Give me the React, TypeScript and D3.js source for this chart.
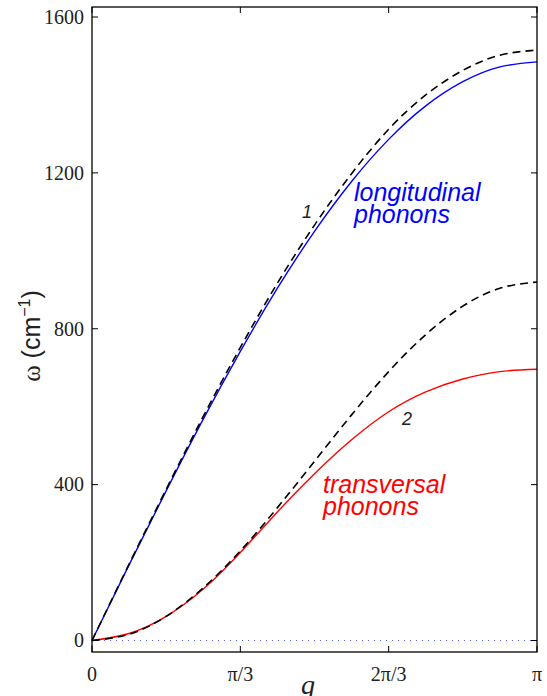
import React from "react";
import * as d3 from "d3";

// q in units of pi/12, 0..pi
const qSteps = [0, 1, 2, 3, 4, 5, 6, 7, 8, 9, 10, 11, 12];

// omega (cm^-1) at each q step
const longitudinal = [0, 194, 384, 568, 742, 904, 1050, 1178, 1286, 1372, 1434, 1472, 1485];
const longitudinalDashed = [0, 196, 388, 575, 752, 917, 1066, 1198, 1312, 1400, 1463, 1502, 1515];
const transversal = [0, 18, 62, 132, 226, 330, 428, 515, 587, 638, 671, 690, 696];
const transversalDashed = [0, 16, 62, 135, 230, 341, 460, 579, 690, 785, 858, 904, 920];

const yTicks = [0, 400, 800, 1200, 1600];
const xTicks = [0, Math.PI / 3, (2 * Math.PI) / 3, Math.PI];
const xTickLabels = ["0", "π/3", "2π/3", "π"];

const W = 547;
const H = 696;
const left = 92;
const right = 537;
const top = 7;
const bottom = 652;

const serif = "'Liberation Serif', 'Times New Roman', serif";
const sans = "'Liberation Sans', Arial, Helvetica, sans-serif";

export default function App() {
  const x = d3.scaleLinear().domain([0, Math.PI]).range([left, right]);
  const y = d3.scaleLinear().domain([-29.5, 1625.7]).range([bottom, top]);

  const pts = (vals: number[]) =>
    qSteps.map((s, i) => [(s * Math.PI) / 12, vals[i]] as [number, number]);

  const line = d3
    .line<[number, number]>()
    .x((d) => x(d[0]))
    .y((d) => y(d[1]))
    .curve(d3.curveNatural);

  const tick = 6;

  return (
    <svg
      width={W}
      height={H}
      style={{ position: "absolute", left: 0, top: 0, background: "#fff" }}
    >
      {/* zero line */}
      <line
        x1={left}
        x2={right}
        y1={y(0)}
        y2={y(0)}
        stroke="#5a5aff"
        strokeWidth={1}
        strokeDasharray="1,5"
      />

      {/* curves */}
      <path d={line(pts(transversal)) || ""} fill="none" stroke="#ff0000" strokeWidth={1.4} />
      <path d={line(pts(longitudinal)) || ""} fill="none" stroke="#0000ff" strokeWidth={1.4} />
      <path
        d={line(pts(longitudinalDashed)) || ""}
        fill="none"
        stroke="#000"
        strokeWidth={1.6}
        strokeDasharray="8,5"
      />
      <path
        d={line(pts(transversalDashed)) || ""}
        fill="none"
        stroke="#000"
        strokeWidth={1.6}
        strokeDasharray="8,5"
      />

      {/* box */}
      <rect
        x={left}
        y={top}
        width={right - left}
        height={bottom - top}
        fill="none"
        stroke="#000"
        strokeWidth={1.3}
      />

      {/* y ticks */}
      {yTicks.map((t) => (
        <g key={"y" + t}>
          <line x1={left} x2={left + tick} y1={y(t)} y2={y(t)} stroke="#000" />
          <line x1={right} x2={right - tick} y1={y(t)} y2={y(t)} stroke="#000" />
          <text
            x={left - 8}
            y={y(t)}
            dy="0.34em"
            textAnchor="end"
            fontFamily={serif}
            fontSize={20}
            fill="#222"
          >
            {t}
          </text>
        </g>
      ))}

      {/* x ticks */}
      {xTicks.map((t, i) => (
        <g key={"x" + i}>
          <line x1={x(t)} x2={x(t)} y1={bottom} y2={bottom - tick} stroke="#000" />
          <line x1={x(t)} x2={x(t)} y1={top} y2={top + tick} stroke="#000" />
          <text
            x={x(t)}
            y={681}
            textAnchor="middle"
            fontFamily={serif}
            fontSize={20}
            fill="#222"
          >
            {xTickLabels[i]}
          </text>
        </g>
      ))}

      {/* axis labels */}
      <text
        x={308}
        y={694}
        textAnchor="middle"
        fontFamily={serif}
        fontStyle="italic"
        fontSize={28}
        fill="#222"
      >
        q
      </text>
      <text
        transform="translate(40,336) rotate(-90)"
        textAnchor="middle"
        fontSize={25}
        fill="#222"
      >
        <tspan fontFamily={serif}>ω</tspan>
        <tspan fontFamily={sans}>{"  (cm"}</tspan>
        <tspan fontFamily={sans} fontSize={16} dy={-10}>
          −1
        </tspan>
        <tspan fontFamily={sans} dy={10}>
          )
        </tspan>
      </text>

      {/* annotations */}
      <g fontFamily={sans} fontStyle="italic" fontSize={25}>
        <text x={354} y={201} fill="#0000ff">
          longitudinal
        </text>
        <text x={354} y={223} fill="#0000ff">
          phonons
        </text>
        <text x={323} y={493} fill="#ff0000">
          transversal
        </text>
        <text x={323} y={515} fill="#ff0000">
          phonons
        </text>
        <text x={302} y={218} fill="#222" fontSize={18}>
          1
        </text>
        <text x={402} y={425} fill="#222" fontSize={18}>
          2
        </text>
      </g>
    </svg>
  );
}
